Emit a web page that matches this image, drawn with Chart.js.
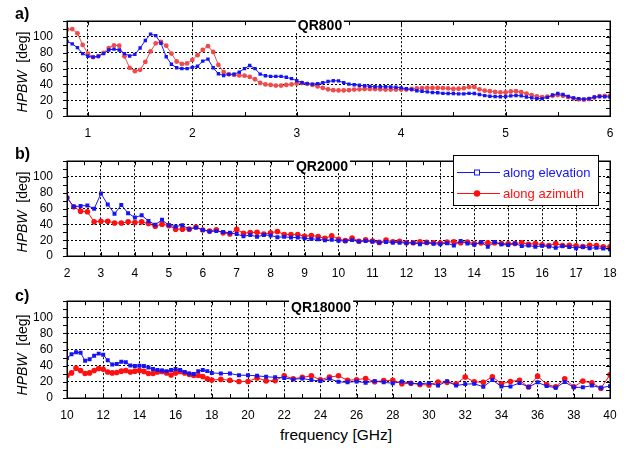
<!DOCTYPE html>
<html><head><meta charset="utf-8">
<script src="https://cdn.jsdelivr.net/npm/chart.js@4.4.1/dist/chart.umd.min.js"></script>
<style>
body{margin:0;width:628px;height:449px;position:relative;background:#fff;font-family:"Liberation Sans",Arial,sans-serif;overflow:hidden}
.wrap{position:absolute;left:0;width:628px}
.lab{position:absolute;font-weight:bold;font-size:16px;color:#000}
.ttl{position:absolute;font-weight:bold;font-size:14px;background:#fff;padding:0 2px;transform:translate(-50%,-50%);line-height:14px}
.yt{position:absolute;font-size:14px;transform:translate(-50%,-50%) rotate(-90deg);white-space:pre;line-height:16px}
.xt{position:absolute;font-size:15.5px;transform:translate(-50%,-50%);white-space:pre}
</style></head><body>
<div class="wrap" style="top:0;height:140px"><canvas id="ca" width="628" height="140"></canvas></div>
<div class="wrap" style="top:140px;height:140px"><canvas id="cb" width="628" height="140"></canvas></div>
<div class="wrap" style="top:280px;height:142px"><canvas id="cc" width="628" height="142"></canvas></div>
<div class="lab" style="left:15px;top:5px">a)</div>
<div class="lab" style="left:15px;top:145px">b)</div>
<div class="lab" style="left:15px;top:287px">c)</div>
<div class="ttl" style="left:320px;top:25px">QR800</div>
<div class="ttl" style="left:322px;top:166px">QR2000</div>
<div class="ttl" style="left:321px;top:307px">QR18000</div>
<div class="yt" style="left:22px;top:72px"><i>HPBW</i>  [deg]</div>
<div class="yt" style="left:22px;top:212px"><i>HPBW</i>  [deg]</div>
<div class="yt" style="left:22px;top:355px"><i>HPBW</i>  [deg]</div>
<div class="xt" style="left:336px;top:435px">frequency [GHz]</div>
<script>
// ---- Panel a) QR800 ----
const freqA = [0.8,0.85,0.9,0.95,1,1.05,1.1,1.15,1.2,1.25,1.3,1.35,1.4,1.45,1.5,1.55,1.6,1.65,1.7,1.75,1.8,1.85,1.9,1.95,2,2.05,2.1,2.15,2.2,2.25,2.3,2.35,2.4,2.45,2.5,2.55,2.6,2.65,2.7,2.75,2.8,2.85,2.9,2.95,3,3.05,3.1,3.15,3.2,3.25,3.3,3.35,3.4,3.45,3.5,3.55,3.6,3.65,3.7,3.75,3.8,3.85,3.9,3.95,4,4.05,4.1,4.15,4.2,4.25,4.3,4.35,4.4,4.45,4.5,4.55,4.6,4.65,4.7,4.75,4.8,4.85,4.9,4.95,5,5.05,5.1,5.15,5.2,5.25,5.3,5.35,5.4,5.45,5.5,5.55,5.6,5.65,5.7,5.75,5.8,5.85,5.9,5.95,6];
const elevA = [94.5,91.3,86.5,79,
75.6,74.5,75.6,79,83.6,84.7,83.6,79,76,78,86,95.6,103.6,101.8,92,75,65.5,61,60,60,
61.5,63,69.5,72,61,53.5,51.3,52.7,53,55.6,60,64,60,53,51,50.2,50.2,50.2,49,47.3,
44.7,42.2,41,40.4,41,42,43.6,44.7,44.4,42.2,40.4,39.6,38.9,38.2,37.5,37,37,37,36.7,36.4,
35.6,34.5,33.5,32,31.3,30.5,29.8,29.5,28.7,28.4,28.4,28,28,28.6,28.4,27.3,25.8,25,24.7,24.4,
24.7,25.5,26,25.5,24,23,22,22,23.6,26.5,28.4,27.3,24.7,23,22,21.3,22,24,24.7,24.4,
24];
const aziA = [109.5,110,104.7,90,
79,74.5,75.6,80,86,89.5,89,75.6,61,56.7,58.5,68.4,81.8,92,93.8,89,79,69,65.8,66.5,
71,77,83.6,88.4,81,64.7,55.6,52.7,52,51.3,51,49.5,46.5,41.8,40,39.3,38.5,38.5,39.3,40,
41,41.8,40.7,39.3,37.5,35.6,33.8,32.7,32.4,32.4,32.7,33.5,33.8,34.2,34.2,34.2,33.8,33.5,33.5,33.5,
33.5,33.5,34.2,35,35.3,35.6,35.6,35.6,35.3,35,34.2,34.5,35.2,36.6,36.7,33.8,32,31.3,30.5,29.8,
29.8,31,31.3,30.2,28.4,26.5,24.7,24,24.4,25.5,26.5,25.5,24,22.2,21.1,20.7,21.5,23.3,25,25.5,
25.5];

// ---- Panel b) QR2000 ----
const freqB = [2,2.2,2.4,2.6,2.8,3,3.2,3.4,3.6,3.8,4,4.2,4.4,4.6,4.8,5,5.2,5.4,5.6,5.8,6,6.2,6.4,6.6,6.8,7,7.2,7.4,7.6,7.8,8,8.2,8.4,8.6,8.8,9,9.2,9.4,9.6,9.8,10,10.2,10.4,10.6,10.8,11,11.2,11.4,11.6,11.8,12,12.2,12.4,12.6,12.8,13,13.2,13.4,13.6,13.8,14,14.2,14.4,14.6,14.8,15,15.2,15.4,15.6,15.8,16,16.2,16.4,16.6,16.8,17,17.2,17.4,17.6,17.8,18];
const elevB = [73.6,62.3,63.4,64,59.7, 79,65.2,53.5,64.5,54.2, 48.7,51.6,44.3,39.6,45.8, 38.8,37.4,38.8,34,35.9,
33,31.1,31.5,30.4,29.3, 27.8,24.9,26.7,24.2,26.7, 26,23.8,24.2,23.4,23.4, 22.3,21.6,21.2,19.8,20.5,
19.4,19,20.1,18.3,19, 18.3,17.2,17.6,17.2,16.8, 16.5,16.5,15,16.8,15.4, 15,16.1,13.2,19,15.8,
14.3,17.6,11.7,17.6,14.7, 13.9,15.8,12.5,13.2,11.7, 12.8,12.1,10.3,12.5,11.4, 9.9,11.4,9.9,10.3,9.5, 8.4];
const aziB = [73.6,62.3,56.8,56,43.2, 44,44,41.8,41.8,43.2, 42.5,43.2,41,37.7,40.3, 38.5,34,34,34,36.6,
33,31.5,33.3,29.3,27.8, 33.7,28.6,29.7,30,27.8, 29.3,31.1,27.1,27.1,27.1, 25,26,24.5,22.3,25.6,
21.2,19.4,22.7,18.7,20.5, 19,17.2,20.1,17.9,18.7, 16.8,16.8,17.9,17.2,16.8, 16.5,17.6,17.9,16.8,17.6,
15.8,16.5,16.8,16.5,15.8, 15.4,15.8,16.8,14.7,15.8, 14.3,13.2,15.8,13.2,13.6, 12.8,12.1,13.6,13.2,11.7, 11.7];

// ---- Panel c) QR18000 ----
const freqC = [10,10.25,10.5,10.75,11,11.25,11.5,11.75,12,12.25,12.5,12.75,13,13.25,13.5,13.75,14,14.25,14.5,14.75,15,15.25,15.5,15.75,16,16.25,16.5,16.75,17,17.25,17.5,17.75,18,
18.5,19,19.5,20,20.5,21,21.5,22,22.5,23,23.5,24,24.5,25,25.5,26,26.5,27,27.5,28,28.5,29,29.5,30,30.5,31,31.5,32,32.5,33,33.5,34,34.5,35,35.5,36,36.5,37,37.5,38,38.5,39,39.5,40];
const elevC = [49.5,54.2,56.8,56, 46.2,48,52.4,55, 53.5,46.9,41.4,42.1, 45,44.3,40.3,39.6, 39.9,39.6,37.7,35.9,
34.8,34,33.3,34.8, 35.9,34.8,32.2,30.4, 29.7,33.3,34.8,33.3, 31.1,
30.4,30.4,28.2,28.2,27.5,26.4,25.6,24.9,23.1,24.2,22.3,21,
23.8,20.1,19.4,20.5,19,20.9,19.4,18.3,20.5,18.3,17.6,18.7,
15.4,20.9,15.4,17.2,17.6,13.9,22.3,14.3,14.3,18.7,13.6,19.4,
14.7,12.8,19.8,13.2,13.2,15.4,12.8,14.7];
const aziC = [27.8,31.1,37,34, 30.4,31.1,34,36.6, 35.5,32.2,31.1,31.5, 33.3,34,32.2,33.3, 34,33,30.4,30.4,
32.2,33,31.1,28.6, 31.1,33,31.1,29.3, 27.8,27.8,26.7,23.8, 22.3,
23.1,22,20.5,20.5,24.9,21.2,21.6,27.5,23.8,25.6,27.5,22.5,
26,27.5,22,22.7,24.2,20.1,21.6,22,17.6,18.3,16.8,16.1,
19.8,19.4,17.6,26,20.1,19.4,26.4,17.6,20.5,22,13.6,27.1,
16.8,13.9,23.8,13.9,20.9,18.7,12.1,28.9];

// ---- tick labels ----
const yTickLabels = [0,20,40,60,80,100];
const xTickLabelsA = [1,2,3,4,5,6];
const xTickLabelsB = [2,3,4,5,6,7,8,9,10,11,12,13,14,15,16,17,18];
const xTickLabelsC = [10,12,14,16,18,20,22,24,26,28,30,32,34,36,38,40];

const BLUE = '#1414f5';

function zip(xs, ys){ return xs.map((x,i)=>({x:x, y:ys[i]})); }
function steps(a, b, s){
  const start = Math.ceil(a/s - 1e-9)*s;
  const out=[]; const n=Math.floor((b-start)/s + 1e-9);
  for(let i=0;i<=n;i++) out.push(Math.round((start+i*s)*1000)/1000);
  return out;
}
function near(list, v){ return list.some(t=>Math.abs(t-v)<1e-6); }

const frame = {
  id:'frame',
  afterDraw(chart, args, opts){
    const ctx = chart.ctx, a = chart.chartArea;
    const xs = chart.scales.x, ys = chart.scales.y;
    ctx.save();
    ctx.strokeStyle = '#000';
    ctx.lineWidth = 1;
    ctx.beginPath();
    ys.ticks.forEach(t=>{
      const y = Math.round(ys.getPixelForValue(t.value)) + 0.5;
      ctx.moveTo(a.left - 4, y); ctx.lineTo(a.left, y);
      ctx.moveTo(a.right - 4, y); ctx.lineTo(a.right, y);
    });
    xs.ticks.forEach(t=>{
      const x = Math.round(xs.getPixelForValue(t.value)) + 0.5;
      ctx.moveTo(x, a.bottom); ctx.lineTo(x, a.bottom - 4);
      ctx.moveTo(x, a.top); ctx.lineTo(x, a.top + 4);
    });
    ctx.stroke();
    ctx.lineWidth = 1.5;
    ctx.strokeRect(Math.round(a.left)+0.25, Math.round(a.top)+0.25, Math.round(a.right-a.left), Math.round(a.bottom-a.top));
    if (opts.legend) {
      const L = opts.legend;
      ctx.fillStyle = '#fff';
      ctx.fillRect(L.x, L.y, L.w, L.h);
      ctx.lineWidth = 1;
      ctx.strokeStyle = '#000';
      ctx.strokeRect(L.x + 0.5, L.y + 0.5, L.w, L.h);
      ctx.font = '13px "Liberation Sans", Arial, sans-serif';
      ctx.textBaseline = 'middle';
      chart.data.datasets.forEach((ds, i)=>{
        const yy = L.y + L.rows[i];
        ctx.strokeStyle = ds.borderColor; ctx.lineWidth = 1;
        ctx.beginPath(); ctx.moveTo(L.x + 4, yy + 0.5); ctx.lineTo(L.x + 47, yy + 0.5); ctx.stroke();
        if (i === 0) {
          ctx.fillStyle = '#fff';
          ctx.fillRect(L.x + 21.5, yy - 2, 5, 5);
          ctx.strokeRect(L.x + 21.5, yy - 2, 5, 5);
        } else {
          ctx.fillStyle = ds.backgroundColor;
          ctx.beginPath(); ctx.arc(L.x + 24, yy + 0.5, 3.2, 0, Math.PI*2); ctx.fill();
        }
        ctx.fillStyle = ds.borderColor;
        ctx.fillText(ds.label, L.x + 50, yy + 1);
      });
    }
    ctx.restore();
  }
};

const FONT = {family:'"Liberation Sans", Arial, sans-serif', size:12};

function makeChart(id, p){
  const xTicks = steps(p.xmin, p.xmax, p.xminor);
  if (!near(xTicks, p.xmin)) xTicks.unshift(p.xmin);
  const yTicks = steps(0, 120, 10);
  new Chart(document.getElementById(id), {
    type:'line',
    data:{datasets:[
      {label:'along elevation', data:zip(p.fx, p.el), borderColor:BLUE, backgroundColor:BLUE,
       pointStyle:'rect', pointRadius:p.br, pointBorderWidth:0, borderWidth:1, tension:0},
      {label:'along azimuth', data:zip(p.fx, p.az), borderColor:p.red, backgroundColor:p.red,
       pointStyle:'circle', pointRadius:p.rr, pointBorderWidth:0, borderWidth:1, tension:0}
    ]},
    options:{
      responsive:false, animation:false, events:[],
      layout:{padding:{left:0, right:18, top:p.top, bottom:0}},
      plugins:{legend:{display:false}, tooltip:{enabled:false}, frame:{legend:p.legend||null}},
      scales:{
        x:{type:'linear', min:p.xmin, max:p.xmax,
           afterBuildTicks(s){ s.ticks = xTicks.map(v=>({value:v})); },
           afterFit(s){ s.height = 24; },
           ticks:{autoSkip:false, maxRotation:0, minRotation:0, color:'#000', padding:10, font:FONT,
                  callback(v){ return near(p.xlabels, v) ? String(v) : ''; }},
           grid:{drawTicks:false, lineWidth:1,
                 color(c){ const v = c.tick.value; return (near(p.xlabels, v) && v > p.xmin && v < p.xmax) ? '#000' : 'rgba(0,0,0,0)'; }},
           border:{display:false, dash:[2,2]}},
        y:{min:0, max:120,
           afterBuildTicks(s){ s.ticks = yTicks.map(v=>({value:v})); },
           afterFit(s){ s.width = 67; },
           ticks:{autoSkip:false, color:'#000', padding:14, font:FONT,
                  callback(v){ return near(yTickLabels, v) ? String(v) : ''; }},
           grid:{drawTicks:false, lineWidth:1,
                 color(c){ const v = c.tick.value; return (v > 0 && v < 120 && near(yTickLabels, v)) ? '#000' : 'rgba(0,0,0,0)'; }},
           border:{display:false, dash:[2,2]}}
      }
    },
    plugins:[frame]
  });
}

makeChart('ca', {fx:freqA, el:elevA, az:aziA, xlabels:xTickLabelsA, xmin:0.8, xmax:6, xminor:0.5, top:5, br:2.4, rr:2.4, red:'#f04a4a'});
makeChart('cb', {fx:freqB, el:elevB, az:aziB, xlabels:xTickLabelsB, xmin:2, xmax:18, xminor:0.5, top:7, br:2.8, rr:2.8, red:'#ff1010',
  legend:{x:453, y:15, w:145, h:50, rows:[17, 38]}});
makeChart('cc', {fx:freqC, el:elevC, az:aziC, xlabels:xTickLabelsC, xmin:10, xmax:40, xminor:1, top:8, br:2.8, rr:2.8, red:'#ff1010'});
</script>
</body></html>
